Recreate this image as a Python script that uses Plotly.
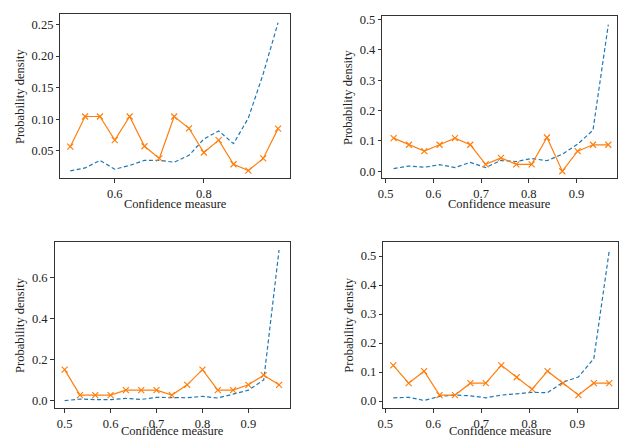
import plotly.graph_objects as go

# ---- data ----
x_a = [0.5 + i / 30 for i in range(15)]           # panels 1 and 3
x_b = [0.5167 + i * 0.45 / 14 for i in range(15)]  # panels 2 and 4

p1_blue = [0.0184, 0.023, 0.035, 0.021, 0.027, 0.035, 0.035, 0.032, 0.043, 0.0687, 0.0816, 0.0614, 0.102, 0.172, 0.2526]
p1_orange = [0.0567, 0.1044, 0.1044, 0.0671, 0.1044, 0.0573, 0.0381, 0.1044, 0.0857, 0.0474, 0.0671, 0.0288, 0.0189, 0.0381, 0.0852]

p2_blue = [0.0086, 0.017, 0.013, 0.0215, 0.012, 0.029, 0.012, 0.0356, 0.032, 0.042, 0.0345, 0.056, 0.089, 0.135, 0.483]
p2_orange = [0.109, 0.087, 0.066, 0.087, 0.109, 0.087, 0.0226, 0.044, 0.0226, 0.0226, 0.111, 0.0, 0.066, 0.087, 0.087]

p3_blue = [0.0, 0.008, 0.005, 0.005, 0.011, 0.006, 0.016, 0.016, 0.014, 0.021, 0.013, 0.032, 0.051, 0.101, 0.732]
p3_orange = [0.151, 0.027, 0.027, 0.027, 0.051, 0.051, 0.051, 0.027, 0.077, 0.151, 0.051, 0.051, 0.077, 0.124, 0.077]

p4_blue = [0.011, 0.0126, 0.002, 0.016, 0.0205, 0.018, 0.011, 0.0205, 0.025, 0.030, 0.0285, 0.065, 0.083, 0.146, 0.518]
p4_orange = [0.123, 0.0616, 0.103, 0.0205, 0.0205, 0.0616, 0.0616, 0.123, 0.082, 0.041, 0.103, 0.0616, 0.0205, 0.0616, 0.0616]

x_title = "Confidence measure"
y_title = "Probability density"

W, H = 621, 439
FONT = "Liberation Serif, DejaVu Serif, serif"
FS = 12.5
BLUE = "#1f77b4"
ORANGE = "#ff7f0e"

panels = [
    # x, blue, orange, px box (l, r, t, b), xrange, yrange, xticks, yticks, yfmt, ytitle_x, bottom_row
    (x_a, p1_blue, p1_orange, (55, 287, 10, 176), [0.478, 0.994], [0.0065, 0.2666],
     [0.6, 0.8], [0.05, 0.10, 0.15, 0.20, 0.25], ".2f", 14, False),
    (x_b, p2_blue, p2_orange, (380, 617, 12.5, 176), [0.493, 0.985], [-0.0237, 0.51],
     [0.5, 0.6, 0.7, 0.8, 0.9], [0.0, 0.1, 0.2, 0.3, 0.4, 0.5], ".1f", 346, False),
    (x_a, p3_blue, p3_orange, (49, 287, 240, 408), [0.478, 0.991], [-0.037, 0.772],
     [0.5, 0.6, 0.7, 0.8, 0.9], [0.0, 0.2, 0.4, 0.6], ".1f", 14, True),
    (x_b, p4_blue, p4_orange, (381, 618, 240, 408), [0.496, 0.985], [-0.025, 0.549],
     [0.5, 0.6, 0.7, 0.8, 0.9], [0.0, 0.1, 0.2, 0.3, 0.4, 0.5], ".1f", 346, True),
]

fig = go.Figure()
annotations = []
for i, (xs, blue, orange, box, xr, yr, xt, yt, yfmt, ytx, bottom_row) in enumerate(panels):
    n = "" if i == 0 else str(i + 1)
    xa, ya = "x" + n, "y" + n
    l, r, t, b = box
    fig.add_trace(go.Scatter(x=xs, y=blue, mode="lines", xaxis=xa, yaxis=ya,
                             line=dict(color=BLUE, width=1.2, dash="4px,2.5px"),
                             showlegend=False))
    fig.add_trace(go.Scatter(x=xs, y=orange, mode="lines+markers", xaxis=xa, yaxis=ya,
                             line=dict(color=ORANGE, width=1.2),
                             marker=dict(symbol="x-thin", size=6, color=ORANGE,
                                         line=dict(color=ORANGE, width=1.2)),
                             showlegend=False))
    axcommon = dict(showgrid=False, zeroline=False, showline=True, mirror=True,
                    linecolor="#333333", linewidth=1, ticks="outside", ticklen=3.5,
                    tickwidth=1, tickcolor="#333333",
                    tickfont=dict(family=FONT, size=FS, color="#222222"))
    fig.layout["xaxis" + n] = dict(domain=[l / W, r / W], range=xr, anchor=ya,
                                   tickvals=xt, ticktext=[f"{v:.1f}" for v in xt], **axcommon)
    fig.layout["yaxis" + n] = dict(domain=[1 - b / H, 1 - t / H], range=yr, anchor=xa,
                                   tickvals=yt, ticktext=[format(v, yfmt) for v in yt], **axcommon)
    if bottom_row:
        xt_y, xt_anchor = 0.0, "bottom"
    else:
        xt_y, xt_anchor = 1 - (b + 26) / H, "middle"
    annotations.append(dict(text=x_title, x=(l + r) / 2 / W, y=xt_y,
                            xref="paper", yref="paper", showarrow=False,
                            xanchor="center", yanchor=xt_anchor, borderpad=0,
                            font=dict(family=FONT, size=FS, color="#222222")))
    annotations.append(dict(text=y_title, x=ytx / W,
                            y=1 - (t + b) / 2 / H,
                            xref="paper", yref="paper", showarrow=False, textangle=-90,
                            xanchor="center", yanchor="middle", borderpad=0,
                            font=dict(family=FONT, size=FS, color="#222222")))

fig.update_layout(width=W, height=H, margin=dict(l=0, r=0, t=0, b=0),
                  plot_bgcolor="white", paper_bgcolor="white",
                  font=dict(family=FONT, size=FS),
                  annotations=annotations)
fig.write_html("out.html", config={"displayModeBar": False},
               post_script="document.body.style.margin='0';document.body.style.padding='0';")
